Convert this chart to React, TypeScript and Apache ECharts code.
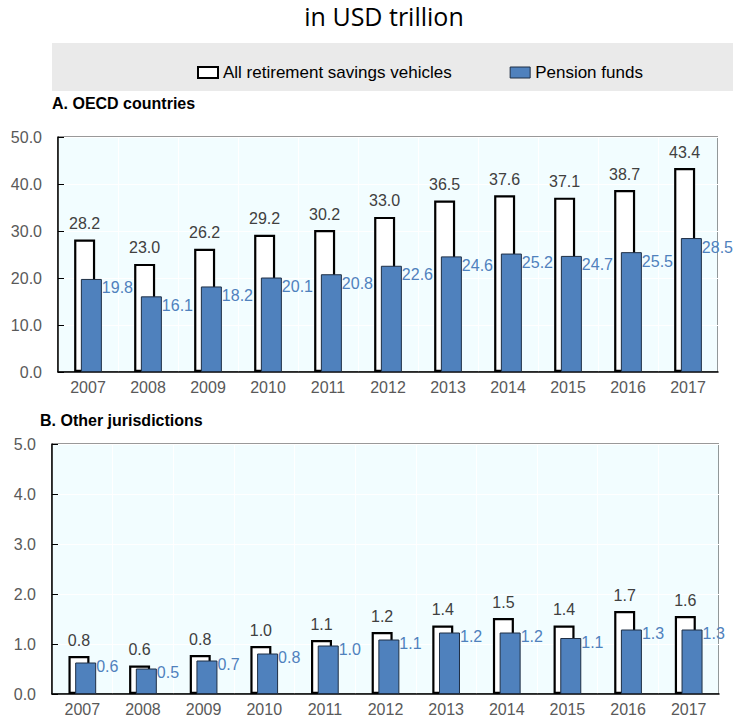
import React, { useEffect, useRef } from "react";
import * as echarts from "echarts";

const years = ["2007", "2008", "2009", "2010", "2011", "2012", "2013", "2014", "2015", "2016", "2017"];
const oecdAll = [28.2, 23.0, 26.2, 29.2, 30.2, 33.0, 36.5, 37.6, 37.1, 38.7, 43.4];
const oecdPension = [19.8, 16.1, 18.2, 20.1, 20.8, 22.6, 24.6, 25.2, 24.7, 25.5, 28.5];
const otherAll = [0.76, 0.57, 0.78, 0.96, 1.08, 1.24, 1.37, 1.52, 1.37, 1.66, 1.56];
const otherPension = [0.63, 0.51, 0.67, 0.81, 0.97, 1.09, 1.23, 1.23, 1.12, 1.29, 1.29];
const yTicksA = [0, 10, 20, 30, 40, 50];
const yTicksB = [0, 1, 2, 3, 4, 5];

const FONT = "'Liberation Sans Narrow', 'Arial Narrow', 'Liberation Sans', Arial, sans-serif";
const BLUE = "#4F81BD";
const GREY = "#595959";

export default function App() {
  const ref = useRef<HTMLDivElement>(null);
  useEffect(() => {
    if (!ref.current) return;
    const chart = echarts.init(ref.current, undefined, { renderer: "svg" });
    const fmt = (p: any) => Number(p.value).toFixed(1);
    const xAxis = (gridIndex: number) => ({
      type: "category",
      gridIndex,
      data: years,
      axisLine: { lineStyle: { color: "#000", width: 1.5 } },
      axisTick: { inside: true, length: 6, lineStyle: { color: "#000" } },
      axisLabel: { color: GREY, fontSize: 16, fontFamily: FONT, margin: 7 },
      splitLine: { show: true, lineStyle: { color: "#ffffff", width: 1 } },
    });
    const yAxis = (gridIndex: number, ticks: number[], interval: number) => ({
      type: "value",
      gridIndex,
      min: ticks[0],
      max: ticks[ticks.length - 1],
      interval,
      axisLine: { show: true, lineStyle: { color: "#000", width: 1.5 } },
      axisTick: { show: true, inside: true, length: 6, lineStyle: { color: "#000" } },
      axisLabel: { color: GREY, fontSize: 16, fontFamily: FONT, margin: 16, formatter: (v: number) => v.toFixed(1) },
      splitLine: { show: true, lineStyle: { color: "#ffffff", width: 1 } },
    });
    const allSeries = (idx: number, data: number[]) => ({
      name: "All retirement savings vehicles",
      type: "bar",
      xAxisIndex: idx,
      yAxisIndex: idx,
      data,
      barWidth: 21,
      barGap: "-68%",
      itemStyle: { color: "#ffffff", borderColor: "#000", borderWidth: 2.2 },
      label: { show: true, position: "top", distance: 8, color: "#404040", fontSize: 16, fontFamily: FONT, formatter: fmt },
    });
    const penSeries = (idx: number, data: number[], dy: number) => ({
      name: "Pension funds",
      type: "bar",
      xAxisIndex: idx,
      yAxisIndex: idx,
      data,
      barWidth: 21,
      itemStyle: { color: BLUE, borderColor: "#1f2f45", borderWidth: 1 },
      label: {
        show: true,
        position: ["100%", 0],
        offset: [0, dy],
        align: "left",
        verticalAlign: "middle",
        color: BLUE,
        fontSize: 16,
        fontFamily: FONT,
        formatter: fmt,
      },
    });
    chart.setOption({
      animation: false,
      graphic: [
        {
          type: "text",
          x: 384,
          y: 16,
          style: { text: "in USD trillion", fontSize: 25, fontFamily: "'Open Sans', 'Noto Sans', sans-serif", fill: "#000", align: "center", verticalAlign: "middle" },
        },
        { type: "rect", z: -10, shape: { x: 52, y: 43, width: 681, height: 48 }, style: { fill: "#EAEAEA" } },
        {
          type: "text",
          x: 52,
          y: 103,
          style: { text: "A. OECD countries", fontSize: 16, fontWeight: "bold", fontFamily: "'Liberation Sans', Arial, sans-serif", fill: "#000", verticalAlign: "middle" },
        },
        {
          type: "text",
          x: 40,
          y: 420,
          style: { text: "B. Other jurisdictions", fontSize: 16, fontWeight: "bold", fontFamily: "'Liberation Sans', Arial, sans-serif", fill: "#000", verticalAlign: "middle" },
        },
      ],
      legend: {
        left: 192,
        top: 59,
        itemWidth: 20,
        itemHeight: 11,
        itemGap: 58,
        textStyle: { fontSize: 17, fontFamily: FONT, color: "#000" },
        data: [
          { name: "All retirement savings vehicles", icon: "rect", itemStyle: { color: "#fff", borderColor: "#000", borderWidth: 2 } },
          { name: "Pension funds", icon: "rect", itemStyle: { color: BLUE, borderColor: "#1f2f45", borderWidth: 1 } },
        ],
      },
      grid: [
        { left: 58, top: 137, right: 15, height: 235, show: true, backgroundColor: "#F2FDFF", borderColor: "#333", borderWidth: 1 },
        { left: 52, top: 444, right: 14, height: 250, show: true, backgroundColor: "#F2FDFF", borderColor: "#333", borderWidth: 1 },
      ],
      xAxis: [xAxis(0), xAxis(1)],
      yAxis: [yAxis(0, yTicksA, 10), yAxis(1, yTicksB, 1)],
      series: [
        allSeries(0, oecdAll),
        penSeries(0, oecdPension, 9),
        allSeries(1, otherAll),
        penSeries(1, otherPension, 4),
      ],
    });
    return () => chart.dispose();
  }, []);
  return <div ref={ref} style={{ position: "absolute", left: 0, top: 0, width: 733, height: 726 }} />;
}
